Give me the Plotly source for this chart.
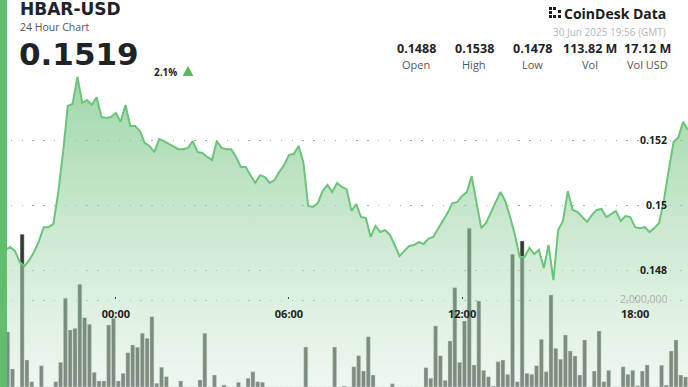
import pandas as pd
import plotly.graph_objects as go

# ---------------- data ----------------
start_time = "2025-06-29 20:10"
price = [
    0.14864, 0.14873, 0.14861, 0.14827, 0.14814, 0.14833, 0.14858, 0.14891, 0.14934, 0.14934,
    0.14944, 0.15039, 0.15162, 0.15307, 0.15313, 0.15396, 0.15316, 0.15325, 0.15310, 0.15334,
    0.15273, 0.15270, 0.15273, 0.15285, 0.15258, 0.15310, 0.15245, 0.15245, 0.15230, 0.15193,
    0.15184, 0.15165, 0.15205, 0.15199, 0.15190, 0.15181, 0.15174, 0.15174, 0.15178, 0.15199,
    0.15165, 0.15162, 0.15150, 0.15141, 0.15199, 0.15178, 0.15174, 0.15174, 0.15150, 0.15119,
    0.15119, 0.15094, 0.15070, 0.15094, 0.15088, 0.15070, 0.15079, 0.15104, 0.15125, 0.15156,
    0.15159, 0.15184, 0.15134, 0.14999, 0.14996, 0.15008, 0.15045, 0.15064, 0.15042, 0.15070,
    0.15058, 0.15051, 0.14984, 0.15005, 0.14965, 0.14962, 0.14904, 0.14938, 0.14919, 0.14925,
    0.14910, 0.14879, 0.14845, 0.14861, 0.14876, 0.14879, 0.14888, 0.14882, 0.14898, 0.14904,
    0.14928, 0.14950, 0.14978, 0.15008, 0.15011, 0.15030, 0.15042, 0.15091, 0.15011, 0.14931,
    0.14947, 0.14981, 0.15011, 0.15042, 0.15014, 0.14965, 0.14910, 0.14842, 0.14842, 0.14870,
    0.14851, 0.14864, 0.14808, 0.14879, 0.14771, 0.14925, 0.14953, 0.15045, 0.14987, 0.14981,
    0.14965, 0.14950, 0.14971, 0.14987, 0.14990, 0.14965, 0.14974, 0.14984, 0.14953, 0.14968,
    0.14965, 0.14934, 0.14931, 0.14934, 0.14919, 0.14931, 0.14947, 0.15018, 0.15110, 0.15196,
    0.15211, 0.15258, 0.15233,
]
volume = [
    1275000, 417000, 0, 3539000, 626000, 123000, 0, 494000, 0, 0,
    123000, 572000, 2056000, 1321000, 1360000, 2380000, 1606000, 1453000, 341000, 139000,
    139000, 1437000, 1592000, 139000, 317000, 795000, 973000, 920000, 1245000, 1129000,
    1629000, 86000, 457000, 239000, 0, 0, 139000, 0, 0, 0,
    162000, 1245000, 0, 278000, 0, 46000, 0, 0, 109000, 0,
    202000, 355000, 123000, 109000, 0, 0, 0, 0, 0, 0,
    0, 0, 927000, 0, 0, 0, 0, 0, 927000, 0,
    23000, 0, 470000, 725000, 371000, 1166000, 278000, 0, 0, 0,
    76000, 0, 0, 0, 0, 0, 0, 447000, 202000, 1414000,
    725000, 155000, 1066000, 2301000, 572000, 1530000, 3678000, 510000, 1993000, 387000,
    239000, 23000, 586000, 626000, 294000, 3075000, 123000, 3384000, 317000, 294000,
    494000, 1105000, 355000, 2132000, 897000, 642000, 1205000, 834000, 718000, 278000,
    1089000, 0, 371000, 1298000, 123000, 387000, 0, 0, 470000, 294000,
    387000, 30000, 371000, 510000, 0, 0, 503000, 46000, 834000, 1089000,
    278000, 232000, 185000,
]
price_ticks = [0.148, 0.15, 0.152]
price_tick_text = ["0.148", "0.15", "0.152"]
volume_ticks = [2000000]
volume_tick_text = ["2,000,000"]
time_ticks = ["2025-06-30 00:00", "2025-06-30 06:00", "2025-06-30 12:00", "2025-06-30 18:00"]
time_tick_text = ["00:00", "06:00", "12:00", "18:00"]

symbol = "HBAR-USD"
subtitle = "24 Hour Chart"
last_price = "0.1519"
change = "2.1%"
timestamp = "30 Jun 2025 19:56 (GMT)"
stat_values = ["0.1488", "0.1538", "0.1478", "113.82 M", "17.12 M"]
stat_labels = ["Open", "High", "Low", "Vol", "Vol USD"]
stat_x = [416, 474, 532, 590, 647]

# ---------------- build ----------------
W, H = 688, 387
times = pd.date_range(start_time, periods=len(price), freq="10min")
bar_times = times + pd.Timedelta(minutes=5)

FONT = "Open Sans, Noto Sans, sans-serif"
WIDE = "DejaVu Sans, Open Sans, sans-serif"
GREEN = "#62bd6f"
DARK = "#1e2328"

fig = go.Figure()

fig.add_trace(go.Bar(
    x=bar_times, y=volume, yaxis="y", xaxis="x",
    marker=dict(color="rgb(50,58,52)", line=dict(color="rgba(200,210,200,0.6)", width=0.7)),
    hoverinfo="skip", showlegend=False,
))

fig.add_trace(go.Scatter(
    x=times, y=price, yaxis="y2", xaxis="x", mode="lines",
    line=dict(color="#6cc47b", width=2),
    fill="tozeroy",
    fillgradient=dict(
        type="vertical", start=0.1444, stop=0.1540,
        colorscale=[[0, "rgba(218,238,222,0.45)"], [1, "rgba(105,192,120,0.64)"]],
    ),
    hoverinfo="skip", showlegend=False,
))

grid_dash = "1.3px,9.5px"

def px(x):
    return x / W

def py(y):
    return 1 - y / H

fig.update_layout(
    width=W, height=H,
    margin=dict(l=0, r=0, t=0, b=0),
    paper_bgcolor="white", plot_bgcolor="white",
    font=dict(family=FONT, color=DARK),
    bargap=0.17,
    xaxis=dict(
        type="date",
        range=["2025-06-29 19:59", "2025-06-30 19:50"],
        anchor="free", position=(H - 296) / H,
        showgrid=False, zeroline=False, showline=False,
        tickvals=time_ticks, ticktext=time_tick_text,
        ticks="outside", ticklen=2, tickwidth=1, tickcolor="#444",
        ticklabelstandoff=6, ticklabeloverflow="allow",
        tickfont=dict(family=FONT, size=11, color="#222", weight="bold"),
    ),
    yaxis=dict(
        range=[0, 2000000 * H / 86.3],
        side="right", tickvals=volume_ticks, showticklabels=False, ticks="",
        showgrid=True, gridcolor="#a8a8a8", gridwidth=1.2, griddash=grid_dash,
        zeroline=False, showline=False,
    ),
    yaxis2=dict(
        range=[0.15 - 181.3 / 32500, 0.15 + 205.7 / 32500],
        overlaying="y", side="right", ticklabelposition="inside",
        tickvals=price_ticks, ticktext=price_tick_text,
        tickfont=dict(family=FONT, size=10.5, color="#222", weight="bold"),
        ticks="", ticklabelstandoff=18,
        showgrid=True, gridcolor="#a8a8a8", gridwidth=1.2, griddash=grid_dash,
        zeroline=False, showline=False,
    ),
)

shapes = [
    dict(type="rect", xref="paper", yref="paper", x0=0, x1=px(7), y0=0, y1=1,
         fillcolor=GREEN, line=dict(width=0), layer="above"),
    dict(type="path", xref="paper", yref="paper",
         path=f"M {px(182.7)},{py(76)} L {px(193.3)},{py(76)} L {px(188)},{py(65.7)} Z",
         fillcolor="#5cb85c", line=dict(width=0), layer="above"),
]
# CoinDesk logo mark (small squares)
for (sx, sy) in [(549, 7), (549, 11), (549, 15), (553, 7), (553, 15), (558, 10), (558, 15)]:
    shapes.append(dict(type="rect", xref="paper", yref="paper",
                       x0=px(sx), x1=px(sx + 3), y0=py(sy + 3), y1=py(sy),
                       fillcolor="#1b1b1b", line=dict(width=0), layer="above"))
fig.update_layout(shapes=shapes)

ann = []
def text(x, y, s, size, color=DARK, bold=False, xanchor="left", family=FONT, height=None):
    a = dict(x=px(x), y=py(y), xref="paper", yref="paper", text=s, showarrow=False,
             xanchor=xanchor, yanchor="middle",
             font=dict(family=family, size=size, color=color, weight="bold" if bold else "normal"))
    if height is not None:
        a["height"] = height
    ann.append(a)

text(18, 9, symbol, 17, bold=True, family=WIDE, height=16)
text(18, 26, subtitle, 10.5, color="#555", height=11)
text(17, 54, last_price, 31, bold=True, family=WIDE)
text(152, 72, change, 10, bold=True)
text(668, 13, "CoinDesk Data", 14, color="#1b1b1b", bold=True, xanchor="right")
text(668, 32, timestamp, 10, color="#b5b5b5", xanchor="right")
for sx, v, l in zip(stat_x, stat_values, stat_labels):
    text(sx, 49, v, 12.5, bold=True, xanchor="center")
    text(sx, 64, l, 11, color="#555", xanchor="center")
# volume axis label (placed at its data value on the volume axis)
for v, t in zip(volume_ticks, volume_tick_text):
    ann.append(dict(x=px(669), y=v, xref="paper", yref="y", text=t, showarrow=False,
                    xanchor="right", yanchor="bottom", yshift=-5, height=10,
                    font=dict(family=FONT, size=10.5, color="#b0b0b0")))
fig.update_layout(annotations=ann)

fig.write_html("out.html", config={"displayModeBar": False, "staticPlot": True})
with open("out.html", encoding="utf-8") as f:
    page = f.read()
page = page.replace("<head>", "<head><style>html,body{margin:0;padding:0;overflow:hidden;}</style>", 1)
with open("out.html", "w", encoding="utf-8") as f:
    f.write(page)
